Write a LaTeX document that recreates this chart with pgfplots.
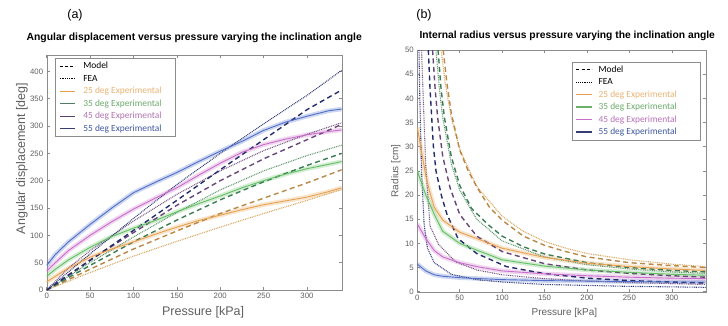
\documentclass[border=0pt]{standalone}
\usepackage{fontspec}
\setmainfont{Liberation Sans}
\newfontfamily\calfont{Carlito}
\usepackage{pgfplots}
\usepackage{pgfplotstable}
\pgfplotsset{compat=1.18}

\definecolor{blueE}{RGB}{80,110,200}
\definecolor{purpleE}{RGB}{200,110,200}
\definecolor{greenE}{RGB}{100,190,100}
\definecolor{orangeE}{RGB}{230,160,80}
\definecolor{blueM}{RGB}{35,45,110}
\definecolor{purpleM}{RGB}{105,70,120}
\definecolor{greenM}{RGB}{60,125,85}
\definecolor{orangeM}{RGB}{185,135,70}
\definecolor{blueF}{RGB}{50,60,125}
\definecolor{purpleF}{RGB}{120,85,130}
\definecolor{greenF}{RGB}{95,150,110}
\definecolor{orangeF}{RGB}{215,165,95}
\definecolor{axgray}{RGB}{140,140,140}
\definecolor{txgray}{RGB}{95,95,95}

% ---------- (a) angular displacement ----------
\pgfplotstableread{
x y
0 45
10 65
25 88
50 120
75 150
100 178
125 197
150 215
175 235
200 254
225 272
250 292
275 307
300 318
325 328
340 331
}\aBlueE
\pgfplotstableread{
x y
0 35
10 50
25 72
50 100
75 125
100 148
125 168
150 187
175 210
200 232
225 252
250 266
275 276
300 284
325 290
340 293
}\aPurpleE
\pgfplotstableread{
x y
0 25
10 38
25 55
50 78
75 98
100 113
125 127
150 143
175 158
200 172
225 187
250 200
275 212
300 222
325 230
340 235
}\aGreenE
\pgfplotstableread{
x y
0 15
10 25
25 40
50 60
75 75
100 88
125 102
150 115
175 127
200 137
225 147
250 156
275 163
300 170
325 180
340 187
}\aOrangeE

% ---------- (b) radius ----------
\pgfplotstableread{
x y
0 34
5 29
10 24
15 20.4
20 17.5
30 14.8
50 12.3
70 11
100 9
150 7.1
200 5.9
250 5.2
300 4.7
340 4.4
}\bOrangeE
\pgfplotstableread{
x y
0 25
10 20
20 16
30 12.5
50 10
70 8.6
100 6.6
150 5.3
200 4.5
250 4
300 3.6
340 3.4
}\bGreenE
\pgfplotstableread{
x y
0 14
10 11
20 8.5
30 7.2
50 6
70 5.2
100 4.3
150 3.7
200 3.3
250 3
300 2.8
340 2.7
}\bPurpleE
\pgfplotstableread{
x y
0 5.7
10 4.3
20 3.5
30 3.2
50 2.9
100 2.5
150 2.3
200 2.2
250 2.1
300 2.0
340 2.0
}\bBlueE

\pgfplotsset{
  common/.style={
    scale only axis,
    axis line style={axgray},
    tick style={axgray, line width=0.5pt},
    tick align=inside,
    major tick length=3pt,
    xmin=0, xmax=340,
    xtick={0,50,...,300},
    ticklabel style={font=\fontsize{7.8}{9}\selectfont, text=txgray},
    /pgf/number format/assume math mode=true,
    legend cell align=left,
    legend image code/.code={\draw[##1] (0pt,0pt) -- (15pt,0pt);},
    legend style={draw=axgray, fill=white, font=\calfont\fontsize{9.4}{11}\selectfont,
      inner xsep=4pt, inner ysep=1.5pt, row sep=0pt,
      cells={inner sep=1.6pt, text height=7pt, text depth=2.2pt}},
  },
  band/.style={line width=4.5pt, opacity=0.28, forget plot},
  exp/.style={line width=0.9pt, forget plot},
  model/.style={line width=1.4pt, dash pattern=on 5pt off 3.5pt, forget plot},
  fea/.style={line width=1.1pt, dash pattern=on 0.9pt off 0.9pt, forget plot},
}

\begin{document}
\begin{tikzpicture}[x=1pt,y=1pt]
\useasboundingbox (0,0) rectangle (728,325);
\node[font=\fontsize{12.5}{14}\selectfont] at (75,310) {(a)};
\node[font=\fontsize{12.5}{14}\selectfont] at (424,310) {(b)};

\begin{axis}[common,
  at={(46.7pt,35pt)}, anchor=south west,
  width=295pt, height=235pt,
  ymin=0, ymax=430,
  ytick={0,50,...,400},
  title={Angular displacement versus pressure varying the inclination angle},
  title style={font=\bfseries\fontsize{10.4}{12}\selectfont, at={(axis description cs:0.5,1)}, anchor=south, yshift=2.5pt},
  xlabel={Pressure [kPa]},
  ylabel={Angular displacement [deg]},
  xlabel style={font=\fontsize{12.5}{14}\selectfont, text=txgray, at={(axis description cs:0.53,0)}, anchor=center, yshift=-22pt},
  ylabel style={font=\fontsize{12.5}{14}\selectfont, text=txgray, at={(axis description cs:-0.0837,0.56)}, anchor=center},
  legend style={at={(0.028,0.986)}, anchor=north west,
    /tikz/every odd column/.append style={column sep=6pt}},
]
\addlegendimage{black, line width=1.2pt, dash pattern=on 3pt off 2pt}
\addlegendentry{\makebox[86pt][l]{Model}}
\addlegendimage{black, line width=1.1pt, dash pattern=on 0.9pt off 0.9pt}
\addlegendentry{FEA}
\addlegendimage{orangeE, line width=1.2pt}
\addlegendentry[text=orangeE!80]{25 deg Experimental}
\addlegendimage{greenM!70!gray, line width=1.2pt}
\addlegendentry[text=greenE!70!gray]{35 deg Experimental}
\addlegendimage{purpleM!90!black, line width=1.2pt}
\addlegendentry[text=purpleE!70!gray]{45 deg Experimental}
\addlegendimage{blueM!80!gray, line width=1.2pt}
\addlegendentry[text=blueE!80!black]{55 deg Experimental}

% bands
\addplot[band, color=orangeE] table {\aOrangeE};
\addplot[band, color=greenE] table {\aGreenE};
\addplot[band, color=purpleE] table {\aPurpleE};
\addplot[band, color=blueE] table {\aBlueE};
% FEA
\addplot[fea, color=orangeF] coordinates {(0,0) (50,32) (100,62) (150,89) (200,115) (250,140) (300,164) (340,184)};
\addplot[fea, color=greenF] coordinates {(0,0) (50,50) (100,97) (150,142) (200,183) (250,218) (300,246) (340,265)};
\addplot[fea, color=purpleF] coordinates {(0,0) (25,40) (50,72) (100,126) (150,175) (200,218) (250,255) (300,285) (340,306)};
\addplot[fea, color=blueF] coordinates {(0,0) (50,66) (100,131) (150,193) (200,250) (250,304) (300,356) (340,402)};
% models
\addplot[model, color=orangeM] coordinates {(0,0) (50,38) (100,75) (150,108) (200,140) (250,168) (300,196) (340,220)};
\addplot[model, color=greenM] coordinates {(0,0) (50,45) (100,88) (150,128) (200,165) (250,198) (300,228) (340,250)};
\addplot[model, color=purpleM] coordinates {(0,0) (50,55) (100,105) (150,155) (200,200) (250,240) (300,275) (340,303)};
\addplot[model, color=blueM] coordinates {(0,0) (50,54) (100,109) (150,164) (200,220) (250,275) (300,330) (340,366)};
% experimental
\addplot[exp, color=orangeE] table {\aOrangeE};
\addplot[exp, color=greenE] table {\aGreenE};
\addplot[exp, color=purpleE] table {\aPurpleE};
\addplot[exp, color=blueE] table {\aBlueE};
\end{axis}

\begin{axis}[common,
  at={(417.3pt,33.3pt)}, anchor=south west,
  width=288.4pt, height=241.7pt,
  ymin=0, ymax=50,
  ytick={0,5,...,50},
  title={Internal radius versus pressure varying the inclination angle},
  title style={font=\bfseries\fontsize{10.3}{12}\selectfont, at={(axis description cs:0.52,1)}, anchor=south, yshift=-0.5pt},
  xlabel={Pressure [kPa]},
  ylabel={Radius [cm]},
  xlabel style={font=\fontsize{10}{12}\selectfont, text=txgray, at={(axis description cs:0.51,0)}, anchor=center, yshift=-21pt},
  ylabel style={font=\fontsize{10}{12}\selectfont, text=txgray, at={(axis description cs:-0.0749,0.5)}, anchor=center},
  legend style={at={(0.983,0.952)}, anchor=north east,
    /tikz/every odd column/.append style={column sep=4.5pt}},
]
\addlegendimage{black, line width=1.2pt, dash pattern=on 3pt off 2pt}
\addlegendentry{\makebox[96pt][l]{Model}}
\addlegendimage{black, line width=1.1pt, dash pattern=on 0.9pt off 0.9pt}
\addlegendentry{FEA}
\addlegendimage{orangeE, line width=1.2pt}
\addlegendentry[text=orangeE!80]{25 deg Experimental}
\addlegendimage{greenE!80!gray, line width=1.2pt}
\addlegendentry[text=greenE!70!gray]{35 deg Experimental}
\addlegendimage{purpleE, line width=1.2pt}
\addlegendentry[text=purpleE!80!gray]{45 deg Experimental}
\addlegendimage{blueM!80!gray, line width=1.2pt}
\addlegendentry[text=blueE!80!black]{55 deg Experimental}

% bands
\addplot[band, color=orangeE] table {\bOrangeE};
\addplot[band, color=greenE] table {\bGreenE};
\addplot[band, color=purpleE] table {\bPurpleE};
\addplot[band, color=blueE] table {\bBlueE};
% FEA
\addplot[fea, color=orangeF] coordinates {(28,50) (33,43) (40,36) (50,29.5) (70,21.8) (100,15.6) (125,12.5) (150,10.4) (175,9.0) (200,7.9) (250,6.6) (300,5.7) (340,5.2)};
\addplot[fea, color=greenF] coordinates {(22,50) (26,42) (30,36) (40,26.5) (50,21) (70,15) (100,10.5) (150,7.2) (200,5.6) (250,4.7) (300,4.1) (340,3.8)};
\addplot[fea, color=purpleF] coordinates {(5,50) (7,40) (10,26) (15,13.6) (25,9.8) (45,6.2) (70,4.5) (100,3.5) (150,2.7) (200,2.2) (250,1.9) (300,1.7) (340,1.5)};
\addplot[fea, color=blueF] coordinates {(2,50) (3,40) (5,25) (8,14) (12,9) (20,6) (40,3.6) (70,2.5) (100,2.0) (150,1.5) (200,1.3) (250,1.1) (300,1.0) (340,0.9)};
% models
\addplot[model, color=orangeM] coordinates {(30.5,50) (35,43) (40,37) (50,29.3) (60,25) (70,21.7) (85,17.5) (100,14.8) (125,11.5) (150,9.6) (175,8.3) (200,7.2) (250,6.0) (300,5.4) (340,5.0)};
\addplot[model, color=greenM] coordinates {(24.5,50) (28,42) (32,36) (40,28) (50,22) (64,17.2) (84,13.8) (100,11.5) (125,9.3) (150,7.8) (200,6.0) (250,5.0) (300,4.4) (340,4.1)};
\addplot[model, color=purpleM] coordinates {(18,50) (21,42) (24,36) (30,28) (38.8,21.4) (50,16) (70,11.5) (100,8.3) (150,5.8) (200,4.5) (250,3.8) (300,3.3) (340,3.0)};
\addplot[model, color=blueM] coordinates {(13,50) (15,42) (17,36) (19,30) (22,25) (28.7,19.7) (35,16) (48,11) (70,7.9) (105,5.2) (148,3.8) (200,2.8) (250,2.3) (300,2.0) (340,1.8)};
% experimental
\addplot[exp, color=orangeE] table {\bOrangeE};
\addplot[exp, color=greenE] table {\bGreenE};
\addplot[exp, color=purpleE] table {\bPurpleE};
\addplot[exp, color=blueE] table {\bBlueE};
\end{axis}
\end{tikzpicture}
\end{document}
